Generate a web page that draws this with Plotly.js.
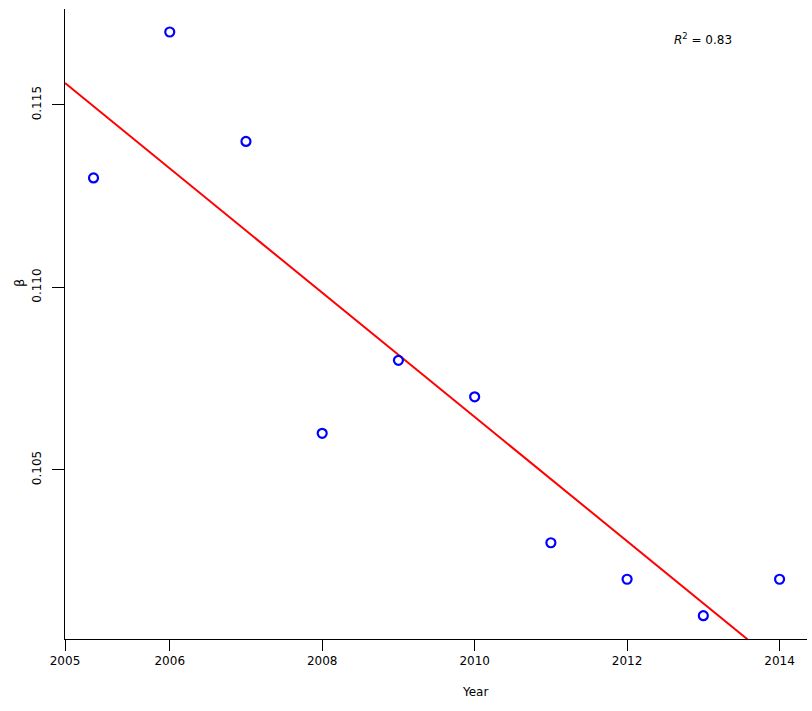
<!DOCTYPE html>
<html>
<head>
<meta charset="utf-8">
<script src="https://cdn.plot.ly/plotly-3.0.1.min.js"></script>
<style>html,body{margin:0;padding:0;background:#fff;}#chart{width:812px;height:711px;}</style>
</head>
<body>
<div id="chart"></div>
<script>
// Data
const years = [2005, 2006, 2007, 2008, 2009, 2010, 2011, 2012, 2013, 2014];
const beta  = [0.113, 0.117, 0.114, 0.106, 0.108, 0.107, 0.103, 0.102, 0.101, 0.102];
const xTickVals = [2004.626, 2006, 2008, 2010, 2012, 2014];
const xTickText = ['2005', '2006', '2008', '2010', '2012', '2014'];
const yTickVals = [0.105, 0.110, 0.115];
const yTickText = ['0.105', '0.110', '0.115'];
const xRange = [2004.626, 2014.36];
const yRange = [0.100362, 0.11763];
const r2Label = '<i>R</i><sup>2</sup> = 0.83';

// Least-squares fit line (abline)
const n = years.length;
const mx = years.reduce((a, b) => a + b, 0) / n;
const my = beta.reduce((a, b) => a + b, 0) / n;
let sxy = 0, sxx = 0;
for (let i = 0; i < n; i++) { sxy += (years[i] - mx) * (beta[i] - my); sxx += (years[i] - mx) ** 2; }
const slope = sxy / sxx;
const icpt = my - slope * mx;
const fitX = [xRange[0], xRange[1]];
const fitY = fitX.map(x => icpt + slope * x);

const font = 'DejaVu Sans, Verdana, sans-serif';

const traces = [
  {x: fitX, y: fitY, mode: 'lines', line: {color: '#ff0000', width: 2}, hoverinfo: 'skip', showlegend: false},
  {x: years, y: beta, mode: 'markers', showlegend: false,
   marker: {symbol: 'circle-open', size: 9, color: '#0000ff', line: {width: 2.2, color: '#0000ff'}}}
];

const layout = {
  width: 812, height: 711,
  margin: {l: 65, r: 5, t: 9, b: 72},
  paper_bgcolor: '#fff', plot_bgcolor: '#fff',
  font: {family: font, size: 12, color: '#000'},
  showlegend: false,
  xaxis: {
    range: xRange, showgrid: false, zeroline: false,
    showline: true, linecolor: '#000', linewidth: 1,
    ticks: 'outside', ticklen: 11, tickwidth: 1, tickcolor: '#000',
    tickmode: 'array', tickvals: xTickVals, ticktext: xTickText,
    tickfont: {family: font, size: 12, color: '#000'}
  },
  yaxis: {
    range: yRange, showgrid: false, zeroline: false,
    showline: true, linecolor: '#000', linewidth: 1,
    ticks: 'outside', ticklen: 12, tickwidth: 1, tickcolor: '#000',
    tickmode: 'array', tickvals: yTickVals, ticktext: yTickText,
    tickangle: -90, ticklabelstandoff: 6,
    tickfont: {family: font, size: 12, color: '#000'}
  },
  annotations: [
    {xref: 'paper', yref: 'paper', x: (475 - 65) / 742, y: (639 - 692) / 630, text: 'Year',
     showarrow: false, font: {family: font, size: 12, color: '#000'}, xanchor: 'center', yanchor: 'middle'},
    {xref: 'paper', yref: 'paper', x: (19 - 65) / 742, y: (639 - 283) / 630, text: 'β', textangle: -90,
     showarrow: false, font: {family: font, size: 13, color: '#000'}, xanchor: 'center', yanchor: 'middle'},
    {xref: 'paper', yref: 'paper', x: (703 - 65) / 742, y: (639 - 39) / 630, text: r2Label,
     showarrow: false, font: {family: font, size: 12, color: '#000'}, xanchor: 'center', yanchor: 'middle'}
  ]
};

Plotly.newPlot('chart', traces, layout, {displayModeBar: false, staticPlot: true});
</script>
</body>
</html>
